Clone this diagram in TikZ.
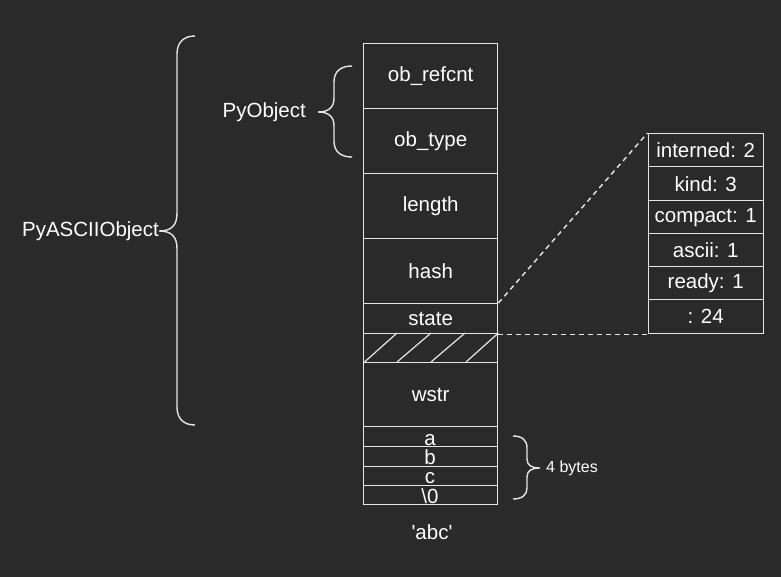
\documentclass[tikz,border=0pt]{standalone}
\usepackage{fontspec}
\setmainfont{Liberation Sans}
\definecolor{bg}{HTML}{2A2A2A}
\definecolor{ln}{HTML}{E6E6E6}
\begin{document}
\begin{tikzpicture}[x=1pt,y=-1pt,
  cell/.style={draw=ln,line width=1.4pt,minimum width=134pt,inner sep=0pt,anchor=north west,text=white,font=\fontsize{20.5}{20.5}\selectfont},
  bit/.style={draw=ln,line width=1.4pt,minimum width=115pt,inner sep=0pt,anchor=north west,text=white,font=\fontsize{20.5}{20.5}\selectfont},
  lbl/.style={text=white,inner sep=0pt,font=\fontsize{20.5}{20.5}\selectfont},
  brace/.style={draw=ln,line width=1.4pt},
  dash line/.style={draw=ln,line width=1.4pt,dash pattern=on 5pt off 4pt}]
\fill[bg] (0,0) rectangle (781,577);
\useasboundingbox (0,0) rectangle (781,577);
% main column
\node[cell,minimum height=65pt] (refcnt) at (363,43) {ob\_refcnt};
\node[cell,minimum height=65pt] (type) at (363,108) {ob\_type};
\node[cell,minimum height=65pt] (length) at (363,173) {length};
\node[cell,minimum height=65pt] (hash) at (363,238) {hash};
\node[cell,minimum height=30pt] (state) at (363,303) {state};
\node[cell,minimum height=29pt] (pad) at (363,333) {};
\node[cell,minimum height=64pt] (wstr) at (363,362) {wstr};
\node[cell,minimum height=20pt] (ca) at (363,426) {};
\node[cell,minimum height=19.5pt] (cb) at (363,446) {};
\node[cell,minimum height=19pt] (cc) at (363,465.5) {};
\node[cell,minimum height=19.5pt] (cz) at (363,484.5) {};
\node[lbl,anchor=base] (ta) at (430,445) {a};
\node[lbl,anchor=base] (tb) at (430,464.5) {b};
\node[lbl,anchor=base] (tc) at (430,483.5) {c};
\node[lbl,anchor=base] (tz) at (430,503) {\textbackslash 0};
\node[lbl] (abc) at (432,532) {\textquotesingle abc\textquotesingle};
% hatch
\draw[ln,line width=1.2pt] (pad.south west) -- (397,333)
  (397,362) -- (431,333) (431,362) -- (465,333) (466,362) -- (pad.north east);
% bit fields
\node[bit,minimum height=33pt] (interned) at (647.5,133) {interned: 2};
\node[bit,minimum height=34pt] (kind) at (647.5,166) {kind: 3};
\node[bit,minimum height=33pt] (compact) at (647.5,200) {compact: 1};
\node[bit,minimum height=33pt] (ascii) at (647.5,233) {ascii: 1};
\node[bit,minimum height=33pt] (ready) at (647.5,266) {ready: 1};
\node[bit,minimum height=34pt] (rest) at (647.5,299) {: 24};
\draw[dash line] (state.north east) -- (interned.north west);
\draw[dash line] (state.south east) -- (rest.south west);
% braces
\node[lbl,anchor=east] (pyascii) at (159,231) {PyASCIIObject};
\draw[brace] (195,36) .. controls (184,36) and (177,42) .. (177,54) -- (177,213)
  .. controls (177,225) and (172,231) .. (pyascii.east)
  .. controls (172,231) and (177,237) .. (177,249) -- (177,407)
  .. controls (177,419) and (184,425) .. (195,425);
\node[lbl,anchor=east] (pyobj) at (306,112) {PyObject};
\draw[brace] (352,66) .. controls (341,66) and (334,71) .. (334,82) -- (334,98)
  .. controls (334,108) and (328,112) .. (318,112)
  .. controls (328,112) and (334,116) .. (334,126) -- (334,141)
  .. controls (334,152) and (341,157) .. (352,157);
\node[lbl,anchor=west,font=\fontsize{16}{16}\selectfont] (bytes) at (546,468) {4 bytes};
\draw[brace] (513,436) .. controls (522,436) and (527,440) .. (527,448) -- (527,459)
  .. controls (527,465) and (531,468) .. (540,468)
  .. controls (531,468) and (527,471) .. (527,477) -- (527,488)
  .. controls (527,495) and (522,499) .. (513,499);
\end{tikzpicture}
\end{document}
